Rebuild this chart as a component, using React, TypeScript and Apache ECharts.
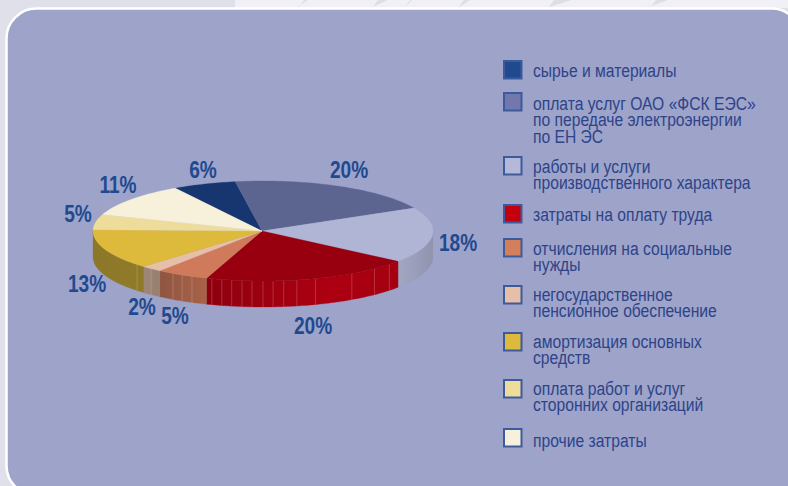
import React, { useEffect, useRef } from "react";
import * as echarts from "echarts";

const categories = [
  "сырье и материалы",
  "оплата услуг ОАО «ФСК ЕЭС»\nпо передаче электроэнергии\nпо ЕН ЭС",
  "работы и услуги\nпроизводственного характера",
  "затраты на оплату труда",
  "отчисления на социальные\nнужды",
  "негосударственное\nпенсионное обеспечение",
  "амортизация основных\nсредств",
  "оплата работ и услуг\nсторонних организаций",
  "прочие затраты",
];
const shares = [6, 20, 18, 20, 5, 2, 13, 5, 11];

const topColors = ["#17356f", "#5c6490", "#b0b5d6", "#99000f", "#cf7a5a", "#e6bfa8", "#ddb93c", "#eedd9a", "#f7f1dc"];
const legendColors = ["#1f4a90", "#7278ae", "#b4b9d8", "#c4000f", "#d47f5c", "#e6bfa8", "#ddb93c", "#eedd9a", "#f7f1dc"];
const wallStops: Record<number, string[]> = {
  2: ["#a2a6c2", "#9a9ebb", "#8f93ae"],
  3: ["#8e000f", "#ad0012", "#a30010"],
  4: ["#8e5540", "#9c5c45", "#a86248"],
  5: ["#a08878", "#9b8273", "#96806f"],
  6: ["#8c7729", "#8f7a2a", "#8f7a2a"],
};
const slatAngles = [132, 139, 148.5, 162, 168.5, 173, 176.6, 180, 183.7, 187.1, 190.6, 194, 197.5, 204.7, 208.4, 212, 221.2, 227.8];

const labelPos = [
  [203, 170], [349, 170], [458, 243], [313, 326], [175, 316], [142, 307], [87, 284], [78, 214], [118, 185],
];
const legendBoxY = [61, 93, 157, 205, 239, 286, 333, 380, 429];
const legendTextY = [71, 104, 167, 215, 249, 295, 342, 389, 441];
const backdropMarks = [
  [290, 308, 298], [364, 388, 372], [398, 412, 404], [452, 470, 458], [540, 572, 548], [640, 668, 650],
];

const CX = 263, CY = 231, RX = 170, RY = 50, DEPTH = 26, START = -31;
const pt = (deg: number, dy = 0): number[] => {
  const a = (deg * Math.PI) / 180;
  return [CX + RX * Math.sin(a), CY + dy - RY * Math.cos(a)];
};
const arc = (a0: number, a1: number, dy = 0): number[][] => {
  const n = Math.max(2, Math.ceil(Math.abs(a1 - a0)));
  const out: number[][] = [];
  for (let i = 0; i <= n; i++) out.push(pt(a0 + ((a1 - a0) * i) / n, dy));
  return out;
};
const total = shares.reduce((s, v) => s + v, 0);
const sliceStart = (idx: number) => {
  let acc = 0;
  for (let i = 0; i < idx; i++) acc += shares[i];
  return START + (acc / total) * 360;
};

export default function App() {
  const ref = useRef<HTMLDivElement>(null);
  useEffect(() => {
    document.body.style.margin = "0";
    const chart = echarts.init(ref.current!, null, { renderer: "svg" });
    const font = "Liberation Sans";
    const legendGraphics: any[] = [];
    categories.forEach((c, i) => {
      legendGraphics.push({
        type: "rect",
        shape: { x: 504, y: legendBoxY[i], width: 17.5, height: 17.5 },
        style: { fill: legendColors[i], stroke: "#3d5a9c", lineWidth: 2 },
      });
      c.split("\n").forEach((line, j) => {
        legendGraphics.push({
          type: "text",
          x: 533,
          y: legendTextY[i] + j * 16.5,
          scaleX: 0.87,
          style: { text: line, fontFamily: font, fontSize: 18, fill: "#2d4488", verticalAlign: "middle", align: "left" },
        });
      });
    });
    const labelGraphics = shares.map((v, i) => ({
      type: "text",
      x: labelPos[i][0],
      y: labelPos[i][1],
      scaleX: 0.83,
      style: { text: v + "%", fontFamily: font, fontWeight: "bold", fontSize: 23, fill: "#1f4a90", align: "center", verticalAlign: "middle" },
    }));
    const marks = backdropMarks.map((m) => ({
      type: "polygon",
      shape: { points: [[m[2], 8], [m[0] + 6, 8], [m[1], 0], [m[2] + 6, 0]] },
      style: { fill: "#dedee6" },
    }));

    chart.setOption({
      animation: false,
      backgroundColor: "#dfe0e9",
      graphic: [
        { type: "rect", shape: { x: 235, y: 0, width: 553, height: 8 }, style: { fill: "#f0f0f6" } },
        ...marks,
        {
          type: "rect",
          shape: { x: 6.5, y: 8.5, width: 795, height: 487, r: 30 },
          style: { fill: "#9ea3ca", stroke: "#ffffff", lineWidth: 2.5 },
        },
        ...legendGraphics,
        ...labelGraphics,
      ],
      series: [
        {
          type: "custom",
          coordinateSystem: "none",
          silent: true,
          z: 2,
          data: shares,
          renderItem: (params: any, api: any) => {
            const i = params.dataIndex;
            const a0 = sliceStart(i);
            const a1 = a0 + (api.value(0) / total) * 360;
            const lo = Math.max(a0, 90), hi = Math.min(a1, 270);
            if (hi <= lo) return { type: "group", children: [] };
            const top = arc(lo, hi);
            const bot = arc(lo, hi, DEPTH).reverse();
            const st = wallStops[i] ?? ["#888888", "#888888", "#888888"];
            // The angle runs right to left along the front wall, so stops are read by screen x.
            const fill = new echarts.graphic.LinearGradient(0, 0, 1, 0, [
              { offset: 0, color: st[0] },
              { offset: i === 3 ? 0.65 : 0.5, color: st[1] },
              { offset: 1, color: st[2] },
            ]);
            const children: any[] = [
              { type: "polygon", shape: { points: top.concat(bot) }, style: { fill, stroke: st[1], lineWidth: 0.3 } },
            ];
            slatAngles.filter((a) => a > lo && a < hi).forEach((a) => {
              const p = pt(a);
              children.push({
                type: "line",
                shape: { x1: p[0], y1: p[1], x2: p[0], y2: p[1] + DEPTH },
                style: { stroke: "rgba(255,220,220,0.28)", lineWidth: 0.8 },
              });
            });
            return { type: "group", children };
          },
        },
        {
          type: "custom",
          coordinateSystem: "none",
          silent: true,
          z: 3,
          data: shares,
          renderItem: (params: any, api: any) => {
            const i = params.dataIndex;
            const a0 = sliceStart(i);
            const a1 = a0 + (api.value(0) / total) * 360;
            return {
              type: "polygon",
              shape: { points: [[CX - 1, CY]].concat(arc(a0, a1)) },
              style: { fill: topColors[i], stroke: topColors[i], lineWidth: 0.3 },
            };
          },
        },
      ],
    });
    return () => chart.dispose();
  }, []);
  return <div ref={ref} style={{ position: "fixed", left: 0, top: 0, width: 788, height: 486 }} />;
}
